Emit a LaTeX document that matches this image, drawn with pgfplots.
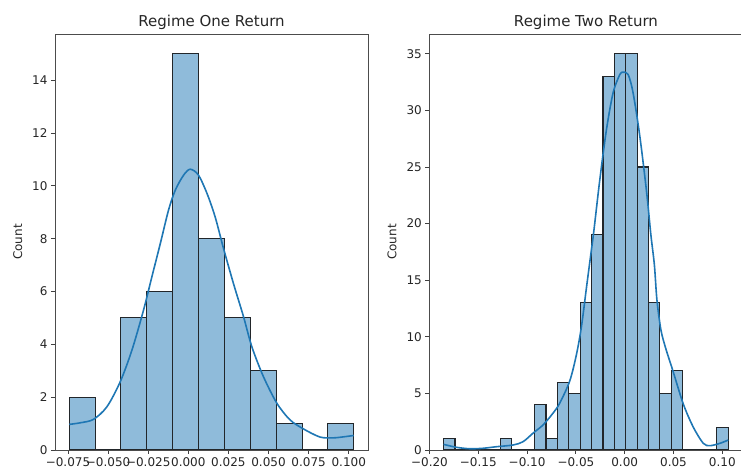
\documentclass[border=0pt]{standalone}
\usepackage{fontspec}
\setmainfont{DejaVu Sans}
\usepackage{pgfplots}
\pgfplotsset{compat=1.18}
\definecolor{barfill}{RGB}{143,187,218}
\definecolor{baredge}{RGB}{34,38,42}
\definecolor{kde}{RGB}{31,119,180}
\definecolor{txt}{RGB}{38,38,38}
\newcommand{\tl}[1]{\hbox{\fontsize{12}{14}\selectfont\color{txt}#1}}
\begin{document}
\begin{tikzpicture}
\pgfplotsset{
  hist/.style={
    scale only axis, width=313pt, height=416pt, anchor=south west,
    axis line style={black!70, line width=0.9pt},
    tick align=outside, tick pos=left,
    major tick length=4pt,
    every tick/.style={black!75, line width=0.9pt},
    ymin=0,
    every axis title/.style={at={(axis description cs:0.5,1)}, anchor=base, yshift=7.5pt, font=\fontsize{15}{18}\selectfont, text=txt, inner sep=0pt},
    every axis y label/.style={at={(axis description cs:-0.119,0.5)}, rotate=90, anchor=center, font=\fontsize{12}{14}\selectfont, text=txt},
    ylabel={Count},
  },
  barst/.style={ybar interval, fill=barfill, draw=baredge, line width=1.1pt},
  kdest/.style={kde, line width=1.6pt, smooth, no marks},
}
\begin{axis}[hist, at={(55pt,20pt)},
  title={Regime One Return},
  xmin=-0.0831, xmax=0.1120, ymax=15.75,
  xtick={-0.075,-0.05,-0.025,0,0.025,0.05,0.075,0.1},
  xticklabels={\tl{−0.075},\tl{−0.050},\tl{−0.025},\tl{0.000},\tl{0.025},\tl{0.050},\tl{0.075},\tl{0.100}},
  ytick={0,2,4,6,8,10,12,14},
  yticklabels={\tl{0},\tl{2},\tl{4},\tl{6},\tl{8},\tl{10},\tl{12},\tl{14}},
]
\addplot[barst] coordinates {
(-0.0742,2) (-0.0581,0) (-0.0420,5) (-0.0259,6) (-0.0097,15) (0.0064,8)
(0.0225,5) (0.0386,3) (0.0547,1) (0.0709,0) (0.0870,1) (0.1031,0)};
\addplot[kdest] coordinates {
(-0.0742,0.97) (-0.0673,1.03) (-0.0591,1.16) (-0.0507,1.64) (-0.0424,2.59)
(-0.0351,3.79) (-0.0279,5.30) (-0.0227,6.56) (-0.0174,7.83) (-0.0123,9.09)
(-0.0081,9.84) (-0.0030,10.40) (0.0012,10.63) (0.0063,10.41) (0.0116,9.72)
(0.0167,8.83) (0.0219,7.64) (0.0281,6.31) (0.0344,5.05) (0.0396,3.91)
(0.0468,2.78) (0.0552,1.77) (0.0634,1.14) (0.0717,0.80) (0.0821,0.49)
(0.0904,0.46) (0.0970,0.50) (0.1031,0.55)};
\end{axis}
\begin{axis}[hist, at={(429.3pt,20pt)}, width=313.3pt,
  title={Regime Two Return},
  xmin=-0.2002, xmax=0.1208, ymax=36.75,
  xtick={-0.2,-0.15,-0.1,-0.05,0,0.05,0.1},
  xticklabels={\tl{−0.20},\tl{−0.15},\tl{−0.10},\tl{−0.05},\tl{0.00},\tl{0.05},\tl{0.10}},
  ytick={0,5,10,15,20,25,30,35},
  yticklabels={\tl{0},\tl{5},\tl{10},\tl{15},\tl{20},\tl{25},\tl{30},\tl{35}},
]
\addplot[barst] coordinates {
(-0.1856,1) (-0.1739,0) (-0.1623,0) (-0.1506,0) (-0.1389,0) (-0.1272,1)
(-0.1156,0) (-0.1039,0) (-0.0922,4) (-0.0806,1) (-0.0689,6) (-0.0572,5)
(-0.0456,13) (-0.0339,19) (-0.0222,33) (-0.0106,35) (0.0011,35) (0.0128,25)
(0.0245,13) (0.0361,5) (0.0478,7) (0.0595,0) (0.0711,0) (0.0828,0)
(0.0945,2) (0.1062,0)};
\addplot[kdest] coordinates {
(-0.1856,0.50) (-0.1726,0.24) (-0.1589,0.11) (-0.1453,0.15) (-0.1315,0.29)
(-0.1145,0.44) (-0.1042,0.73) (-0.0940,1.48) (-0.0837,2.21) (-0.0735,3.25)
(-0.0666,4.13) (-0.0563,6.10) (-0.0494,8.45) (-0.0443,10.91) (-0.0392,14.33)
(-0.0341,17.69) (-0.0317,19.28) (-0.0255,23.88) (-0.0187,28.30) (-0.0119,31.55)
(-0.0050,33.17) (-0.0016,33.37) (0.0035,33.17) (0.0086,31.55) (0.0155,27.71)
(0.0224,22.82) (0.0268,19.02) (0.0304,16.36) (0.0330,13.27) (0.0371,10.61)
(0.0422,8.93) (0.0494,6.99) (0.0600,4.07) (0.0702,2.03) (0.0805,0.59)
(0.0874,0.38) (0.0976,0.59) (0.1061,0.88)};
\end{axis}
\pgfresetboundingbox
\path (0pt,0pt) rectangle (741pt,470pt);
\end{tikzpicture}
\end{document}
